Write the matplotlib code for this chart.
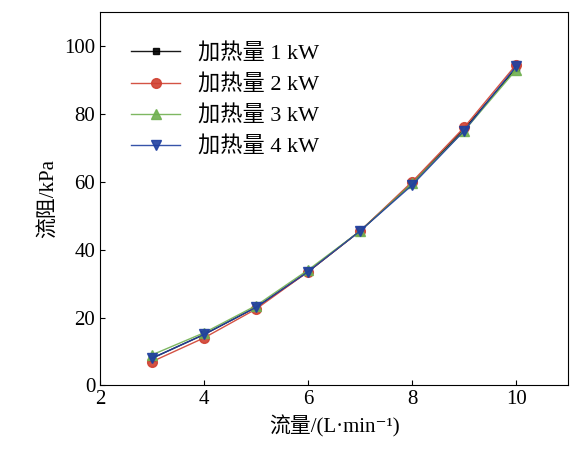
import matplotlib
matplotlib.use("Agg")
import matplotlib.pyplot as plt

x = [3, 4, 5, 6, 7, 8, 9, 10]
p1 = [8.0, 15.0, 23.0, 33.5, 45.5, 59.5, 75.5, 93.5]
p2 = [7.0, 14.0, 22.5, 33.5, 45.5, 60.0, 76.0, 94.5]
p3 = [9.0, 15.5, 23.5, 34.0, 45.5, 59.5, 75.0, 93.0]
p4 = [8.0, 15.0, 23.0, 33.5, 45.5, 59.0, 75.0, 94.0]
labels = ["加热量 1 kW", "加热量 2 kW", "加热量 3 kW", "加热量 4 kW"]

plt.rcParams['font.family'] = ['Liberation Serif', 'Noto Sans CJK SC', 'DejaVu Serif']
fig = plt.figure(figsize=(5.75, 4.66), dpi=100)
ax = fig.add_axes([0.174, 0.173, 0.814, 0.801])
styles = [("black", "s", 5), ("#d04030", "o", 7), ("#70b050", "^", 7), ("#2040a0", "v", 7)]
for ys, lab, (c, m, ms) in zip([p1, p2, p3, p4], labels, styles):
    ax.plot(x, ys, color=c, marker=m, markersize=ms, lw=1, alpha=0.9, label=lab)
ax.set_xlim(2, 11)
ax.set_ylim(0, 110)
ax.set_xticks([2, 4, 6, 8, 10])
ax.set_yticks([0, 20, 40, 60, 80, 100])
ax.tick_params(labelsize=15, direction='in')
ax.set_xlabel("流量/(L·min⁻¹)", fontsize=15)
ax.set_ylabel("流阻/kPa", fontsize=15)
ax.legend(loc='upper left', frameon=False, fontsize=16, handlelength=2.2,
          borderaxespad=1.0, labelspacing=0.45)
fig.savefig("out.png")
